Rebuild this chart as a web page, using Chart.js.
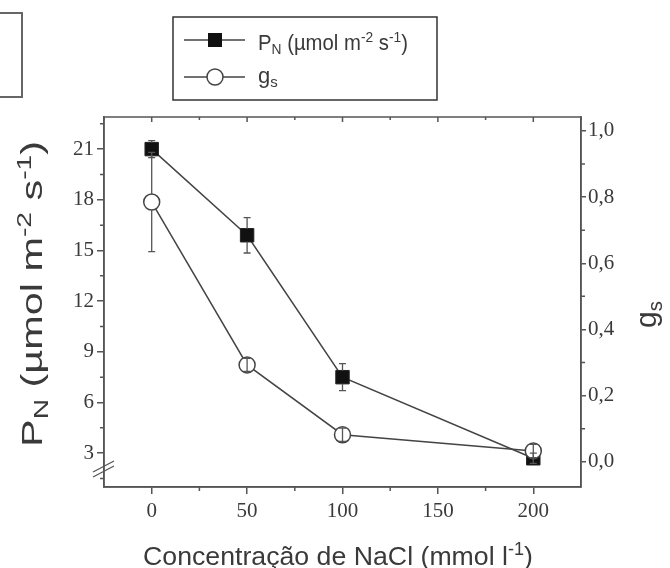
<!DOCTYPE html>
<html>
  <head>
    <title>PN e gs vs NaCl</title>
    <script src="https://cdn.jsdelivr.net/npm/chart.js@4.4.1/dist/chart.umd.min.js"></script>
    <style>
      html, body { margin: 0; padding: 0; background: #fff; }
      #wrap { width: 670px; height: 568px; }
    </style>
  </head>
  <body>
    <div id="wrap"><canvas id="myChart" width="670" height="568"></canvas></div>
    <script>
      const nacl = [0, 50, 100, 200];
      const pnValues = [21.0, 15.9, 7.5, 2.7];
      const pnErrors = [0.5, 1.05, 0.8, 0.3];
      const gsValues = [0.785, 0.293, 0.082, 0.033];
      const gsErrors = [0.15, 0.02, 0.02, 0.02];

      const xTicks = [0, 50, 100, 150, 200];
      const pnTicks = [3, 6, 9, 12, 15, 18, 21];
      const gsTicks = [0, 0.2, 0.4, 0.6, 0.8, 1.0];

      const ink = '#3a3a3a';
      const frame = '#555';
      const serif = "'Liberation Serif', 'Times New Roman', serif";
      const sans = "'Liberation Sans', Arial, sans-serif";

      // draws text runs with sub/superscripts, stretched to a given length
      function richText(ctx, parts, size, fitWidth) {
        let w = 0;
        parts.forEach(p => {
          ctx.font = (p.s ? size * 0.68 : size) + 'px ' + sans;
          p.w = ctx.measureText(p.t).width;
          w += p.w;
        });
        const k = fitWidth ? fitWidth / w : 1;
        ctx.save();
        ctx.scale(k, 1);
        let x = 0;
        parts.forEach(p => {
          ctx.font = (p.s ? size * 0.68 : size) + 'px ' + sans;
          const dy = p.s === 'sub' ? size * 0.2 : p.s === 'sup' ? -size * 0.38 : 0;
          ctx.fillText(p.t, x, dy);
          x += p.w;
        });
        ctx.restore();
      }

      const pnLabel = [
        {t: 'P'}, {t: 'N', s: 'sub'}, {t: ' (\u00b5mol m'}, {t: '-2', s: 'sup'},
        {t: ' s'}, {t: '-1', s: 'sup'}, {t: ')'}
      ];

      const extras = {
        id: 'extras',
        beforeDatasetsDraw(chart) {
          const {ctx, chartArea: a, scales} = chart;
          ctx.save();
          ctx.strokeStyle = frame;
          ctx.lineWidth = 1.5;
          ctx.strokeRect(a.left, a.top, a.right - a.left, a.bottom - a.top);
          ctx.beginPath();
          // minor ticks and top (inward) ticks
          for (let v = -25; v <= 225; v += 25) {
            const x = scales.x.getPixelForValue(v);
            const major = v % 50 === 0;
            ctx.moveTo(x, a.top); ctx.lineTo(x, a.top + (major ? 5 : 3));
            if (!major && v > -25 && v < 225) { ctx.moveTo(x, a.bottom); ctx.lineTo(x, a.bottom + 4); }
          }
          for (let v = 1.5; v < 22.9; v += 3) {
            const y = scales.y.getPixelForValue(v);
            ctx.moveTo(a.left, y); ctx.lineTo(a.left - 4, y);
          }
          for (let v = 0.1; v < 1.04; v += 0.2) {
            const y = scales.y1.getPixelForValue(v);
            ctx.moveTo(a.right, y); ctx.lineTo(a.right + 4, y);
          }
          ctx.stroke();
          ctx.restore();
        },
        afterDatasetsDraw(chart) {
          const {ctx, scales} = chart;
          ctx.save();
          ctx.strokeStyle = '#555';
          ctx.lineWidth = 1.3;
          const bars = (vals, errs, sc, r) => {
            vals.forEach((v, i) => {
              const x = scales.x.getPixelForValue(nacl[i]);
              const y = sc.getPixelForValue(v);
              const yt = sc.getPixelForValue(v + errs[i]);
              const yb = sc.getPixelForValue(v - errs[i]);
              ctx.beginPath();
              [yt, yb].forEach(ye => {
                const d = ye - y;
                const from = Math.abs(d) > r ? y + Math.sign(d) * r : y;
                ctx.moveTo(x, from); ctx.lineTo(x, ye);
                ctx.moveTo(x - 3.5, ye); ctx.lineTo(x + 3.5, ye);
              });
              ctx.stroke();
            });
          };
          bars(pnValues, pnErrors, scales.y, 6.5);
          bars(gsValues, gsErrors, scales.y1, 8);
          ctx.restore();
        },
        afterDraw(chart) {
          const {ctx, chartArea: a} = chart;
          ctx.save();
          // axis break
          ctx.strokeStyle = '#555';
          ctx.lineWidth = 1.3;
          ctx.beginPath();
          ctx.moveTo(a.left - 11, a.bottom - 15); ctx.lineTo(a.left + 10, a.bottom - 26);
          ctx.moveTo(a.left - 11, a.bottom - 10); ctx.lineTo(a.left + 10, a.bottom - 21);
          ctx.stroke();

          // partial box at top left
          ctx.strokeStyle = '#666';
          ctx.lineWidth = 2;
          ctx.strokeRect(-5, 13, 27, 84);

          // legend
          ctx.strokeStyle = '#333';
          ctx.lineWidth = 1.5;
          ctx.strokeRect(173, 17, 264, 83);
          ctx.strokeStyle = '#444';
          ctx.beginPath();
          ctx.moveTo(184, 40); ctx.lineTo(245, 40);
          ctx.moveTo(184, 77); ctx.lineTo(245, 77);
          ctx.stroke();
          ctx.fillStyle = '#111';
          ctx.fillRect(208, 33, 14, 14);
          ctx.beginPath();
          ctx.arc(215, 77, 8, 0, Math.PI * 2);
          ctx.fillStyle = '#fff';
          ctx.fill();
          ctx.stroke();
          ctx.fillStyle = ink;
          ctx.textBaseline = 'alphabetic';
          ctx.save();
          ctx.translate(258, 50);
          richText(ctx, pnLabel, 22, 150);
          ctx.restore();
          ctx.save();
          ctx.translate(258, 83);
          richText(ctx, [{t: 'g'}, {t: 's', s: 'sub'}], 22);
          ctx.restore();

          // axis titles
          ctx.save();
          ctx.translate(42, 447);
          ctx.rotate(-Math.PI / 2);
          richText(ctx, pnLabel, 30, 306);
          ctx.restore();

          ctx.save();
          ctx.translate(656, 328);
          ctx.rotate(-Math.PI / 2);
          richText(ctx, [{t: 'g'}, {t: 's', s: 'sub'}], 30);
          ctx.restore();

          ctx.save();
          ctx.translate(143, 565);
          richText(ctx, [{t: 'Concentra\u00e7\u00e3o de NaCl (mmol l'}, {t: '-1', s: 'sup'}, {t: ')'}], 26, 390);
          ctx.restore();
          ctx.restore();
        }
      };

      const ctx = document.getElementById('myChart');
      const myChart = new Chart(ctx, {
        type: 'line',
        data: {
          datasets: [{
            label: 'gs',
            data: nacl.map((x, i) => ({x: x, y: gsValues[i]})),
            yAxisID: 'y1',
            borderColor: '#444',
            borderWidth: 1.5,
            pointStyle: 'circle',
            pointRadius: 8,
            pointBackgroundColor: '#fff',
            pointBorderColor: '#444',
            pointBorderWidth: 1.5,
          }, {
            label: 'PN',
            data: nacl.map((x, i) => ({x: x, y: pnValues[i]})),
            yAxisID: 'y',
            borderColor: '#444',
            borderWidth: 1.5,
            pointStyle: 'rect',
            pointRadius: 9.5,
            pointBackgroundColor: '#111',
            pointBorderColor: '#222',
            pointBorderWidth: 1,
          }],
        },
        options: {
          responsive: false,
          animation: false,
          layout: {padding: {top: 117, left: 0, right: 0, bottom: 0}},
          plugins: {legend: {display: false}, tooltip: {enabled: false}},
          scales: {
            x: {
              type: 'linear',
              min: -25,
              max: 225,
              afterBuildTicks: s => { s.ticks = xTicks.map(v => ({value: v})); },
              afterFit: s => { s.height = 81; },
              grid: {drawOnChartArea: false, tickLength: 7, color: frame, lineWidth: 1.5},
              border: {color: frame, width: 1.5},
              ticks: {font: {family: serif, size: 21}, color: ink, padding: 5, maxRotation: 0},
            },
            y: {
              position: 'left',
              min: 1,
              max: 22.9,
              afterBuildTicks: s => { s.ticks = pnTicks.map(v => ({value: v})); },
              afterFit: s => { s.width = 104; },
              grid: {drawOnChartArea: false, tickLength: 7, color: frame, lineWidth: 1.5},
              border: {color: frame, width: 1.5},
              ticks: {font: {family: serif, size: 21}, color: ink, padding: 3},
            },
            y1: {
              position: 'right',
              min: -0.076,
              max: 1.042,
              afterBuildTicks: s => { s.ticks = gsTicks.map(v => ({value: v})); },
              afterFit: s => { s.width = 89; },
              grid: {drawOnChartArea: false, tickLength: 5, color: frame, lineWidth: 1.5},
              border: {color: frame, width: 1.5},
              ticks: {
                font: {family: serif, size: 21},
                color: ink,
                padding: 2,
                callback: v => v.toFixed(1).replace('.', ','),
              },
            },
          },
        },
        plugins: [extras],
      });
    </script>
  </body>
</html>
